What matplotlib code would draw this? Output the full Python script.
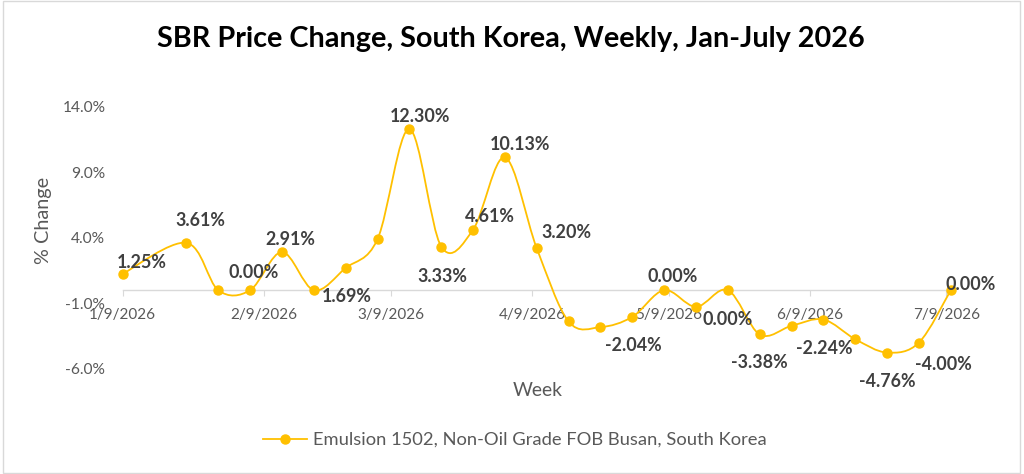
import numpy as np
import matplotlib
matplotlib.use("Agg")
import matplotlib.pyplot as plt
import matplotlib.dates as mdates
from matplotlib.path import Path
from matplotlib.patches import PathPatch, Rectangle
from matplotlib.lines import Line2D
from matplotlib.ticker import FuncFormatter, FixedLocator

plt.rcParams['font.family'] = ['Lato', 'DejaVu Sans']

# ---------------- data ----------------
dates = ['2026-01-09', '2026-01-23', '2026-01-30', '2026-02-06', '2026-02-13',
         '2026-02-20', '2026-02-27', '2026-03-06', '2026-03-13', '2026-03-20',
         '2026-03-27', '2026-04-03', '2026-04-10', '2026-04-17', '2026-04-24',
         '2026-05-01', '2026-05-08', '2026-05-15', '2026-05-22', '2026-05-29',
         '2026-06-05', '2026-06-12', '2026-06-19', '2026-06-26', '2026-07-03',
         '2026-07-10']
values = [1.25, 3.61, 0.00, 0.00, 2.91, 0.00, 1.69, 3.89, 12.30, 3.33,
          4.61, 10.13, 3.20, -2.39, -2.82, -2.04, 0.00, -1.27, 0.00, -3.38,
          -2.72, -2.24, -3.74, -4.76, -4.00, 0.00]
point_labels = ['1.25%', '3.61%', None, '0.00%', '2.91%', None, '1.69%', None,
                '12.30%', '3.33%', '4.61%', '10.13%', '3.20%', None, None,
                '-2.04%', '0.00%', None, '0.00%', '-3.38%', None, '-2.24%',
                None, '-4.76%', '-4.00%', '0.00%']
y_ticks = [-6.0, -1.0, 4.0, 9.0, 14.0]
x_tick_dates = ['2026-01-09', '2026-02-09', '2026-03-09', '2026-04-09',
                '2026-05-09', '2026-06-09', '2026-07-09']
series_name = 'Emulsion 1502, Non-Oil Grade FOB Busan, South Korea'
title = 'SBR Price Change, South Korea, Weekly, Jan-July 2026'
x_label = 'Week'
y_label = '% Change'

# label offsets (pixels, dx right, dy up) from each point to label centre/baseline
label_offsets = [(19, 6), (14, 17), None, (4, 12), (8, 7), None, (1, -34), None,
                 (11, 7), (1, -35), (17, 8), (15, 7), (30, 10), None, None,
                 (1, -34), (9, 8), None, (0, -35), (0, -34), None, (1, -34),
                 None, (0, -34), (24, -27), (20, 0)]

# ---------------- style ----------------
GOLD = '#FFC000'
TICK_GRAY = '#595959'
LABEL_DARK = '#404040'
W, H = 1024, 474

fig = plt.figure(figsize=(W / 100, H / 100), dpi=100)
fig.patch.set_facecolor('white')
renderer = fig.canvas.get_renderer()


def fit(text, target_px, weight='normal', base=12.0):
    t = fig.text(0, 0, text, fontsize=base, fontweight=weight)
    w = t.get_window_extent(renderer).width
    t.remove()
    return base * target_px / w


# axes placement (pixels from top-left)
x_left, x_right = 122.7, 950.8
y_top, y_bot = 106.7, 368.8
ax = fig.add_axes([x_left / W, 1 - y_bot / H, (x_right - x_left) / W, (y_bot - y_top) / H])
ax.set_facecolor('none')

xd = mdates.date2num(np.array(dates, dtype='datetime64[D]'))
yv = np.array(values, dtype=float)

ax.set_xlim(xd[0], xd[-1])
ax.set_ylim(y_ticks[0], y_ticks[-1])

# smoothed line (Bezier path through the data points)
P = np.column_stack([xd, yv])
verts = [tuple(P[0])]
codes = [Path.MOVETO]
n = len(P)
for i in range(n - 1):
    p0 = P[i - 1] if i > 0 else P[i]
    p1 = P[i]
    p2 = P[i + 1]
    p3 = P[i + 2] if i + 2 < n else P[i + 1]
    c1 = p1 + (p2 - p0) / 6.0
    c2 = p2 - (p3 - p1) / 6.0
    verts += [tuple(c1), tuple(c2), tuple(p2)]
    codes += [Path.CURVE4] * 3
ax.add_patch(PathPatch(Path(verts, codes), facecolor='none', edgecolor=GOLD,
                       lw=1.3, zorder=3, clip_on=False))
ax.plot(xd, yv, linestyle='none', marker='o', ms=6.5, color=GOLD,
        markeredgecolor=GOLD, zorder=4, clip_on=False)

# data labels
lab_fs = fit('12.30%', 60, weight='bold')
for xi, yi, lab, off in zip(xd, yv, point_labels, label_offsets):
    if lab is None:
        continue
    ax.annotate(lab, (xi, yi), xytext=off, textcoords='offset pixels',
                ha='center', va='baseline', fontsize=lab_fs, fontweight='bold',
                color=LABEL_DARK, zorder=5, annotation_clip=False)

# axes styling
for s in ['top', 'right', 'left']:
    ax.spines[s].set_visible(False)
ax.spines['bottom'].set_position(('data', 0))
ax.spines['bottom'].set_color('#D9D9D9')
ax.spines['bottom'].set_linewidth(1.0)

ax.yaxis.set_major_locator(FixedLocator(y_ticks))
ax.yaxis.set_major_formatter(FuncFormatter(lambda v, p: f'{v:.1f}%'))
ytick_fs = fit('14.0%', 43)
ax.tick_params(axis='y', length=0, pad=12.5, labelsize=ytick_fs, labelcolor=TICK_GRAY)

xt = mdates.date2num(np.array(x_tick_dates, dtype='datetime64[D]'))
ax.xaxis.set_major_locator(FixedLocator(xt))


def date_fmt(v, p):
    d = mdates.num2date(v)
    return f'{d.month}/{d.day}/{d.year}'


ax.xaxis.set_major_formatter(FuncFormatter(date_fmt))
xtick_fs = fit('1/9/2026', 66.7)
ax.tick_params(axis='x', length=4, width=0.8, color='#D9D9D9', direction='out',
               pad=9, labelsize=xtick_fs, labelcolor=TICK_GRAY)

# title & axis labels
title_fs = fit(title, 702, weight='bold')
fig.text(511 / W, 1 - 47 / H, title, ha='center', va='baseline',
         fontsize=title_fs, fontweight='bold', color='black')

axlab_fs = fit('Week', 50)
fig.text(538 / W, 1 - 390 / H, x_label, ha='center', va='center',
         fontsize=axlab_fs, color=TICK_GRAY)
fig.text(43 / W, 1 - 220 / H, y_label, ha='center', va='center', rotation=90,
         fontsize=fit(y_label, 87), color=TICK_GRAY)

# legend
leg_fs = fit(series_name, 453)
fs_px = leg_fs / 0.72
handle = Line2D([], [], color=GOLD, lw=1.3, marker='o', ms=6.5)
leg = fig.legend([handle], [series_name], loc='center',
                 bbox_to_anchor=(514.5 / W, 1 - 440 / H), frameon=False,
                 fontsize=leg_fs, handlelength=44 / fs_px, handletextpad=6 / fs_px,
                 borderpad=0, borderaxespad=0)
for t in leg.get_texts():
    t.set_color(TICK_GRAY)

# outer chart frame
fig.add_artist(Rectangle((2.5 / W, 1.5 / H), (1020 - 2.5) / W, (472.5 - 1) / H,
                         transform=fig.transFigure, fill=False,
                         edgecolor='#D9D9D9', lw=1.0))

fig.savefig('out.png', dpi=100, facecolor='white')
